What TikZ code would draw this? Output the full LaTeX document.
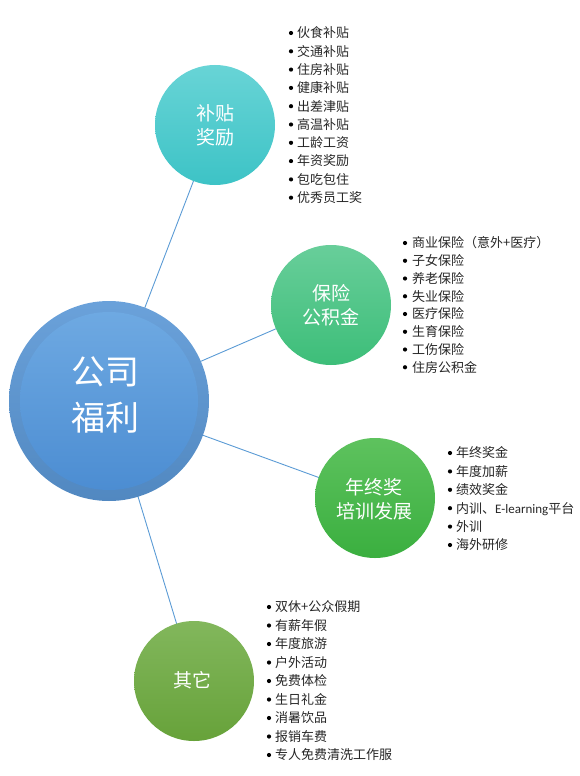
\documentclass[tikz,border=0pt]{standalone}
\usepackage{fontspec}
\setmainfont{Noto Sans CJK SC}
\newfontfamily\latinpart{Carlito}
\usetikzlibrary{backgrounds}
\definecolor{ringblue}{HTML}{5A97D6}
\definecolor{mainTop}{HTML}{6EA9E2}
\definecolor{mainBot}{HTML}{4C8DD2}
\definecolor{cATop}{HTML}{68D4D6}
\definecolor{cABot}{HTML}{3DC3C6}
\definecolor{cBTop}{HTML}{68CE9A}
\definecolor{cBBot}{HTML}{3DBE79}
\definecolor{cCTop}{HTML}{5EC25E}
\definecolor{cCBot}{HTML}{3AAF3F}
\definecolor{cDTop}{HTML}{82B75C}
\definecolor{cDBot}{HTML}{67A23A}
\definecolor{linkblue}{HTML}{5B9BD5}
\definecolor{textgray}{HTML}{262626}
\begin{document}
\begin{tikzpicture}[x=1pt,y=-1pt,
  bubble/.style={circle, inner sep=0pt, minimum size=120pt, shading=axis},
  bubbletext/.style={text=white, align=center, inner sep=0pt, font=\fontsize{19}{24}\selectfont},
  link/.style={draw=linkblue, line width=0.9pt},
  item/.style={anchor=base west, inner sep=0pt, text=textgray, font=\fontsize{13}{13}\selectfont},
  bulletdot/.style={fill=black}]
\useasboundingbox (0,0) rectangle (579,776);
% main circle
\node[circle, inner sep=0pt, minimum size=200pt, shading=axis, top color=ringblue!90!white, bottom color=ringblue!90!black] (main) at (109,401) {};
\node[circle, inner sep=0pt, minimum size=178pt, shading=axis, top color=mainTop, bottom color=mainBot] (maininner) at (109,401) {};
\node[text=white, align=center, inner sep=0pt, font=\fontsize{34}{46}\selectfont] (maintext) at (105,395) {公司\\福利};
% satellites
\node[bubble, top color=cATop, bottom color=cABot] (c1) at (215,125) {};
\node[bubbletext] (t1) at (215,125.5) {补贴\\奖励};
\node[bubble, top color=cBTop, bottom color=cBBot] (c2) at (331,305) {};
\node[bubbletext] (t2) at (331,305) {保险\\公积金};
\node[bubble, top color=cCTop, bottom color=cCBot] (c3) at (375,498) {};
\node[bubbletext] (t3) at (374,499) {年终奖\\培训发展};
\node[bubble, top color=cDTop, bottom color=cDBot] (c4) at (194,681) {};
\node[bubbletext] (t4) at (192,680) {其它};
% connectors
\begin{pgfonlayer}{background}
\draw[link] (main.center) -- (c1.center);
\draw[link] (main.center) -- (c2.center);
\draw[link] (main.center) -- (c3.center);
\draw[link] (main.center) -- (c4.center);
\end{pgfonlayer}
% lists
\foreach [count=\i] \t in {伙食补贴,交通补贴,住房补贴,健康补贴,出差津贴,高温补贴,工龄工资,年资奖励,包吃包住,优秀员工奖}{
  \fill[bulletdot] (291,{33+18.3*(\i-1)}) circle (2.1);
  \node[item] (a\i) at (297,{33+18.3*(\i-1)+4.8}) {\t};
}
\foreach [count=\i] \t in {商业保险（意外+医疗）,子女保险,养老保险,失业保险,医疗保险,生育保险,工伤保险,住房公积金}{
  \fill[bulletdot] (405,{243+17.75*(\i-1)}) circle (2.1);
  \node[item] (b\i) at (412,{243+17.75*(\i-1)+4.8}) {\t};
}
\foreach [count=\i] \t in {年终奖金,年度加薪,绩效奖金,{内训、{\latinpart E-learning}平台},外训,海外研修}{
  \fill[bulletdot] (450,{453+18.4*(\i-1)}) circle (2.1);
  \node[item] (d\i) at (456,{453+18.4*(\i-1)+4.8}) {\t};
}
\foreach [count=\i] \t in {双休+公众假期,有薪年假,年度旅游,户外活动,免费体检,生日礼金,消暑饮品,报销车费,专人免费清洗工作服}{
  \fill[bulletdot] (269,{607+18.5*(\i-1)}) circle (2.1);
  \node[item] (e\i) at (275,{607+18.5*(\i-1)+4.8}) {\t};
}
\end{tikzpicture}
\end{document}
